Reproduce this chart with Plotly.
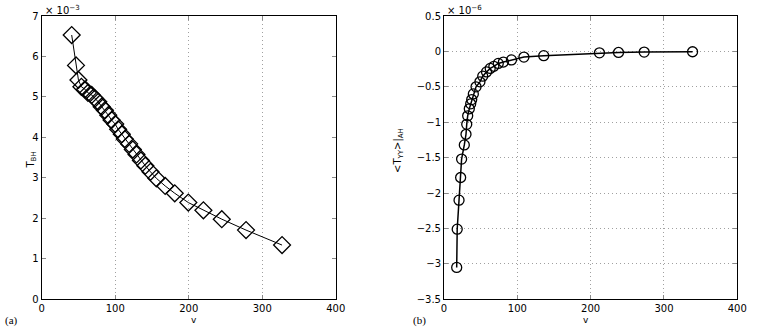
import plotly.graph_objs as go

########### Data ######

# panel (a): T_BH (units of 1e-3) against v
v_a = [40.8, 46.7, 50, 54, 59, 63, 68, 72.5, 77, 81.6, 86, 90.6, 95, 100, 104,
       109, 113, 119, 124, 129, 135, 141, 148, 156, 168, 181, 199.5, 220, 245,
       278, 327]
t_bh = [6.53, 5.78, 5.42, 5.25, 5.19, 5.10, 5.05, 4.96, 4.88, 4.76, 4.67, 4.55,
        4.43, 4.33, 4.20, 4.08, 3.96, 3.84, 3.70, 3.58, 3.43, 3.30, 3.15, 2.99,
        2.80, 2.62, 2.39, 2.20, 1.98, 1.71, 1.34]

# panel (b): <T_yy>|_AH (units of 1e-6) against v
v_b = [17.3, 18, 20.5, 22.7, 24, 27.7, 30, 31, 32.3, 34.5, 36.4, 37.8, 40, 43.7,
       49, 52.8, 58, 63, 68, 74, 81, 92, 109, 136, 212, 238, 273, 339]
t_yy = [-3.05, -2.51, -2.10, -1.78, -1.52, -1.32, -1.17, -1.03, -0.91, -0.81,
        -0.74, -0.68, -0.60, -0.50, -0.43, -0.35, -0.29, -0.24, -0.21, -0.17,
        -0.15, -0.12, -0.08, -0.06, -0.02, -0.015, -0.01, -0.005]

x_ticks = [0, 100, 200, 300, 400]
ya_ticks = [0, 1, 2, 3, 4, 5, 6, 7]
yb_ticks = [-3.5, -3, -2.5, -2, -1.5, -1, -0.5, 0, 0.5]
yb_text = ['\u22123.5', '\u22123', '\u22122.5', '\u22122', '\u22121.5', '\u22121',
           '\u22120.5', '0', '0.5']

########### Figure ######

tick_font = dict(family='DejaVu Sans', size=10, color='black')

fig = go.Figure()
fig.add_trace(go.Scatter(x=v_a, y=t_bh, mode='lines+markers', xaxis='x', yaxis='y',
                         line=dict(color='black', width=1),
                         marker=dict(symbol='diamond-open', size=13, color='black',
                                     line=dict(width=1.3, color='black'))))
fig.add_trace(go.Scatter(x=v_b, y=t_yy, mode='lines+markers', xaxis='x2', yaxis='y2',
                         line=dict(color='black', width=1.5),
                         marker=dict(symbol='circle-open', size=10, color='black',
                                     line=dict(width=1.3, color='black'))))

grid = dict(gridcolor='#a0a0a0', griddash='1px,3px', gridwidth=1)

def xax(domain, anchor):
    return dict(domain=domain, anchor=anchor, range=[0, 400], tickvals=x_ticks,
                showgrid=True, zeroline=False, showline=True, linecolor='black',
                linewidth=1, mirror='ticks', ticks='inside', ticklen=4,
                tickcolor='#888', tickfont=tick_font, automargin=False, **grid)

def yax(domain, anchor, rng, vals, text, show_grid):
    return dict(domain=domain, anchor=anchor, range=rng, tickvals=vals, ticktext=text,
                showgrid=show_grid, zeroline=False, showline=True, linecolor='black',
                linewidth=1, mirror='ticks', ticks='inside', ticklen=4,
                tickcolor='#888', tickfont=tick_font, automargin=False, **grid)

ydom = [1 - 299.3 / 327, 1 - 16 / 327]
fig.update_layout(
    width=763, height=327, showlegend=False,
    paper_bgcolor='white', plot_bgcolor='white',
    margin=dict(l=0, r=0, t=0, b=0),
    xaxis=xax([41.7 / 763, 335.7 / 763], 'y'),
    yaxis=yax(ydom, 'x', [0, 7], ya_ticks, [str(t) for t in ya_ticks], False),
    xaxis2=xax([444 / 763, 737.3 / 763], 'y2'),
    yaxis2=yax(ydom, 'x2', [-3.5, 0.5], yb_ticks, yb_text, True),
)

lab_font = dict(family='DejaVu Sans', size=10, color='black')
notes = [
    dict(x=188.7 / 763, y=1 - 319.5 / 327, text='v', font_size=9),
    dict(x=590.6 / 763, y=1 - 319.5 / 327, text='v', font_size=9),
    dict(x=22 / 763, y=1 - 160 / 327, text='T<sub>BH</sub>', textangle=-90),
    dict(x=398 / 763, y=1 - 150 / 327, text='&lt;T<sub>YY</sub>&gt;|<sub>AH</sub>',
         textangle=-90),
    dict(x=43 / 763, y=1 - 10 / 327, text='\u00d7 10<sup>\u22123</sup>', xanchor='left'),
    dict(x=445 / 763, y=1 - 10 / 327, text='\u00d7 10<sup>\u22126</sup>', xanchor='left'),
]
for n in notes:
    fig.add_annotation(xref='paper', yref='paper', showarrow=False, font=lab_font,
                       yanchor='middle')
    fig.layout.annotations[-1].update(**n)

for txt, xpos in [('(a)', 3), ('(b)', 411)]:
    fig.add_annotation(xref='paper', yref='paper', x=xpos / 763, y=1 - 320 / 327,
                       text=txt, showarrow=False, xanchor='left', yanchor='middle',
                       font=dict(family='Liberation Serif', size=11, color='black'))

# drop the browser's default body margin so the figure sits at the page corner
fig.write_html("out.html", config={'displayModeBar': False},
               post_script="document.body.style.margin='0';")
